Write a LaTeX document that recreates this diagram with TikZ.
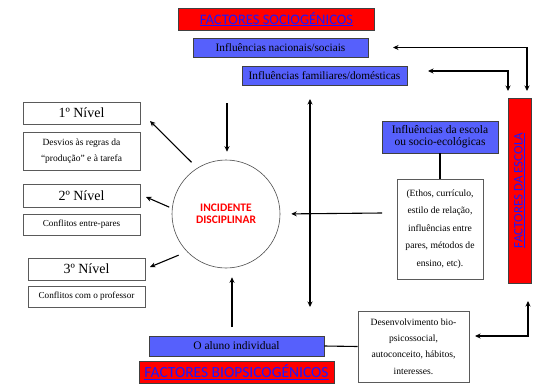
\documentclass[tikz,border=0pt]{standalone}
\usepackage{fontspec}
\setmainfont{Liberation Serif}
\newfontfamily\calfont{Carlito}
\usetikzlibrary{arrows.meta}
\definecolor{bfill}{RGB}{86,96,252}
\definecolor{rfill}{RGB}{255,0,0}
\definecolor{ftxt}{RGB}{25,25,255}
\definecolor{bord}{RGB}{90,90,90}
\begin{document}
\begin{tikzpicture}[x=1pt,y=-1pt,
  box/.style={draw=bord, line width=0.6pt, inner sep=0pt, align=center, text=black, fill=white},
  bbox/.style={box, fill=bfill, draw=black!75},
  rbox/.style={box, fill=rfill, draw=black!75, text=ftxt},
  lvl/.style={box, font=\fontsize{14}{16}\selectfont, minimum width=117pt, minimum height=22pt},
  small/.style={box},
  arr/.style={line width=1.1pt, -{Stealth[length=5.5pt,width=5pt]}},
  darr/.style={line width=1.1pt, {Stealth[length=5.5pt,width=5pt]}-{Stealth[length=5.5pt,width=5pt]}},
  ln/.style={line width=1.1pt}
]
\useasboundingbox (0,0) rectangle (537,383);

% top boxes
\node[rbox, font=\calfont\fontsize{14.5}{16}\selectfont, minimum width=196pt, minimum height=22pt] (socio) at (276.5,19) {\underline{FACTORES SOCIOGÉNICOS}};
\node[bbox, font=\fontsize{11.3}{13}\selectfont, minimum width=175pt, minimum height=19pt] (nac) at (280.5,47.5) {Influências nacionais/sociais};
\node[bbox, font=\fontsize{11.3}{13}\selectfont, minimum width=165pt, minimum height=19pt] (fam) at (324.5,75.5) {Influências familiares/domésticas};

% levels
\node[lvl] (n1) at (81.5,113) {1º Nível};
\node[small, minimum width=117pt, minimum height=38pt, font=\fontsize{9.5}{15.7}\selectfont] (desv) at (81.5,151) {Desvios às regras da\\“produção” e à tarefa};
\node[lvl, minimum height=23pt] (n2) at (81.5,195.5) {2º Nível};
\node[small, minimum width=117pt, minimum height=21pt, font=\fontsize{9.2}{11}\selectfont] (entre) at (81.5,224.5) {Conflitos entre-pares};
\node[lvl] (n3) at (86.5,269) {3º Nível};
\node[small, minimum width=117pt, minimum height=21pt, font=\fontsize{9.2}{11}\selectfont] (prof) at (86.5,296.5) {Conflitos com o professor};

% circle
\node[draw=black!70, line width=0.6pt, circle, minimum size=108pt, inner sep=0pt, align=center,
      font=\calfont\bfseries\fontsize{11.5}{12.5}\selectfont, text=rfill] (c) at (226,214) {INCIDENTE\\DISCIPLINAR};

% school
\node[bbox, font=\fontsize{11.5}{12}\selectfont, minimum width=116pt, minimum height=32pt] (esc) at (440,137) {Influências da escola\\ou socio-ecológicas};
\node[small, minimum width=86pt, minimum height=100pt, font=\fontsize{9.6}{17.5}\selectfont] (eth) at (440,229) {(Ethos, currículo,\\estilo de relação,\\influências entre\\pares, métodos de\\ensino, etc).};
\node[rbox, rotate=90, minimum width=185pt, minimum height=23pt, font=\calfont\fontsize{13}{15}\selectfont] (fde) at (519.5,190.5) {\underline{FACTORES DA ESCOLA}};

% bottom
\node[bbox, font=\fontsize{11.5}{13}\selectfont, minimum width=175pt, minimum height=20pt] (alu) at (236.5,346) {O aluno individual};
\node[rbox, font=\calfont\fontsize{15.5}{17}\selectfont, minimum width=195pt, minimum height=22pt] (bio) at (236.5,372) {\underline{FACTORES BIOPSICOGÉNICOS}};
\node[small, minimum width=111pt, minimum height=71pt, font=\fontsize{9.6}{16.2}\selectfont] (des) at (413.5,346.5) {Desenvolvimento bio-\\psicossocial,\\autoconceito, hábitos,\\interesses.};

% coordinates
\coordinate (t1) at (150,121);
\coordinate (t2) at (146,197);
\coordinate (t3) at (150,267);
\coordinate (d1) at (227,103);
\coordinate (u1) at (232,327);
\coordinate (v1) at (310,99);
\coordinate (v2) at (310,307);
\coordinate (h1) at (382,213);
\coordinate (a1) at (393,47.5);
\coordinate (a2) at (527,91);
\coordinate (b1) at (428,71);
\coordinate (b2) at (508,91);
\coordinate (e1) at (528,301);
\coordinate (e2) at (475,336);

% connectors
\draw[arr, shorten <=8pt] (c.122) -- (t1);
\draw[arr, shorten <=3pt] (c.174) -- (t2);
\draw[arr, shorten <=9pt] (c.224) -- (t3);
\draw[arr, shorten >=8pt] (d1) -- (d1 |- c.north);
\draw[arr, shorten >=9pt] (u1) -- (u1 |- c.south);
\draw[darr] (v1) -- (v2);
\draw[arr, shorten >=11pt] (h1) -- (c.east);
\draw[ln] (esc.south) -- (eth.north);
\draw[ln] (alu.east) -- (des.west);
\draw[darr] (a1) -| (a2);
\draw[darr] (b1) -| (b2);
\draw[darr] (e1) |- (e2);
\end{tikzpicture}
\end{document}
